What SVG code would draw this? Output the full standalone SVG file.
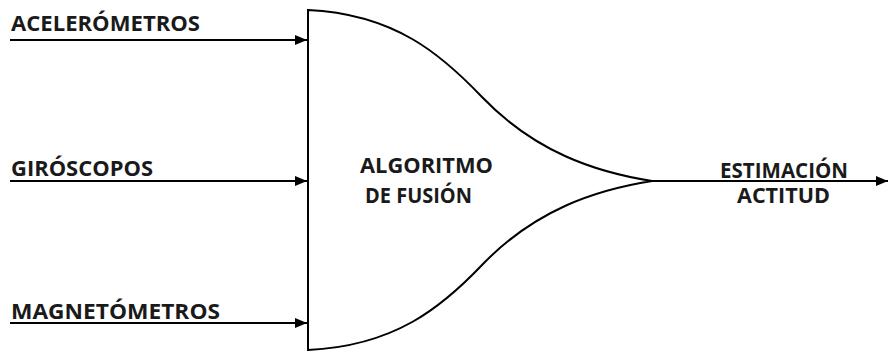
<svg xmlns="http://www.w3.org/2000/svg" width="889" height="353" viewBox="0 0 889 353">
<style>
text{font-family:"Open Sans","Liberation Sans",sans-serif;font-weight:bold;font-size:20.5px;fill:#1a1a1a}
.ln{stroke:#000;stroke-width:2;fill:none}
</style>
<defs>
<marker id="ah" viewBox="0 0 12 10" refX="12" refY="5" markerWidth="12" markerHeight="10" markerUnits="userSpaceOnUse" orient="auto">
<path d="M0,0 L12,5 L0,10 z" fill="#000"/>
</marker>
</defs>
<rect width="889" height="353" fill="#fff"/>
<g id="fusion">
<path class="ln" d="M308,10 C395,14 442,55 482,97 C535,152 595,172 652,181 C595,190 535,210 482,265 C442,307 395,346 308,350 Z" fill="#fff"/>
<text x="360" y="173" textLength="133" lengthAdjust="spacingAndGlyphs">ALGORITMO</text>
<text x="365" y="203" textLength="107" lengthAdjust="spacingAndGlyphs">DE FUSIÓN</text>
</g>
<g id="acelerometros"><text x="11" y="31" textLength="189" lengthAdjust="spacingAndGlyphs">ACELERÓMETROS</text></g>
<g id="giroscopos"><text x="11" y="176" textLength="142" lengthAdjust="spacingAndGlyphs">GIRÓSCOPOS</text></g>
<g id="magnetometros"><text x="11" y="319" textLength="209" lengthAdjust="spacingAndGlyphs">MAGNETÓMETROS</text></g>
<g id="estimacion">
<text x="720" y="178" textLength="128" lengthAdjust="spacingAndGlyphs">ESTIMACIÓN</text>
<text x="737" y="203" textLength="93" lengthAdjust="spacingAndGlyphs">ACTITUD</text>
</g>
<g id="connectors">
<line class="ln" x1="10" y1="40" x2="307" y2="40" marker-end="url(#ah)"/>
<line class="ln" x1="10" y1="181" x2="307" y2="181" marker-end="url(#ah)"/>
<line class="ln" x1="10" y1="323" x2="307" y2="323" marker-end="url(#ah)"/>
<line class="ln" x1="652" y1="181" x2="888" y2="181" marker-end="url(#ah)"/>
</g>
</svg>
